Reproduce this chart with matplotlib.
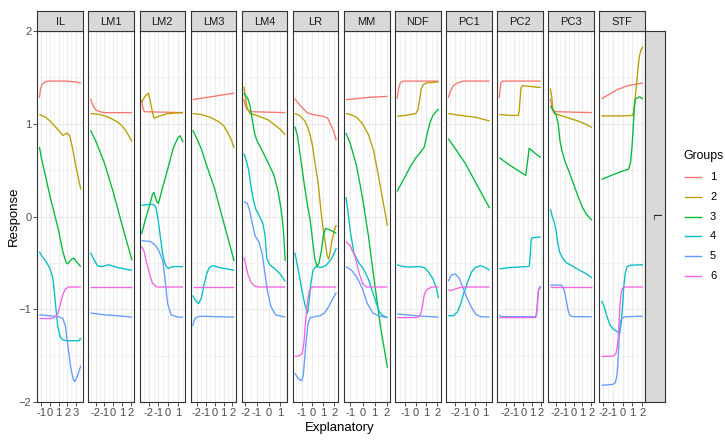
import matplotlib.pyplot as plt
from matplotlib.lines import Line2D
from matplotlib.ticker import MultipleLocator

plt.rcParams['font.family'] = ['Liberation Sans', 'DejaVu Sans']

groups = [1, 2, 3, 4, 5, 6]
group_colors = ['#F8766D', '#B79F00', '#00BA38', '#00BFC4', '#619CFF', '#F564E3']
facets = ['IL', 'LM1', 'LM2', 'LM3', 'LM4', 'LR', 'MM', 'NDF', 'PC1', 'PC2', 'PC3', 'STF']
y_ticks = [-2, -1, 0, 1, 2]

# response curves per facet, group -> [(explanatory, response), ...]
IL = {
    1: [(-1.24, 1.28), (-1.1, 1.38), (-0.9, 1.43), (-0.5, 1.455), (0, 1.46), (1, 1.46), (2, 1.46), (3, 1.45), (3.6, 1.44)],
    2: [(-1.24, 1.10), (-0.5, 1.07), (0, 1.03), (0.5, 0.98), (1, 0.93), (1.5, 0.875), (1.8, 0.89), (2.0, 0.90),
        (2.3, 0.87), (2.6, 0.75), (3.0, 0.55), (3.3, 0.42), (3.6, 0.29)],
    3: [(-1.24, 0.75), (-1, 0.63), (0, 0.22), (1, -0.15), (1.5, -0.38), (1.9, -0.5), (2.1, -0.51), (2.5, -0.46),
        (2.8, -0.45), (3.1, -0.49), (3.6, -0.54)],
    4: [(-1.24, -0.38), (-1, -0.42), (-0.5, -0.48), (0, -0.56), (0.3, -0.65), (0.5, -0.8), (0.7, -1.0), (0.9, -1.18),
        (1.2, -1.3), (1.5, -1.33), (2, -1.34), (3, -1.34), (3.4, -1.34), (3.6, -1.31)],
    5: [(-1.24, -1.06), (0, -1.07), (1, -1.08), (1.5, -1.1), (1.8, -1.18), (2.1, -1.4), (2.4, -1.62), (2.7, -1.75),
        (2.9, -1.78), (3.2, -1.72), (3.6, -1.61)],
    6: [(-1.24, -1.10), (0, -1.10), (0.5, -1.09), (0.9, -1.05), (1.2, -0.95), (1.5, -0.84), (1.8, -0.78), (2.2, -0.76),
        (3.6, -0.76)],
}
LM1 = {
    1: [(-2.58, 1.27), (-2.3, 1.2), (-2.0, 1.15), (-1.5, 1.13), (-1, 1.12), (2.16, 1.12)],
    2: [(-2.58, 1.11), (-1.5, 1.10), (-0.5, 1.07), (0.5, 1.02), (1, 0.98), (1.5, 0.92), (2.16, 0.81)],
    3: [(-2.58, 0.93), (-2, 0.82), (-1, 0.58), (0, 0.27), (1, -0.08), (2.16, -0.47)],
    4: [(-2.58, -0.39), (-2.2, -0.46), (-1.8, -0.53), (-1.3, -0.54), (-0.5, -0.52), (0.5, -0.55), (2.16, -0.58)],
    5: [(-2.58, -1.04), (-1, -1.06), (0.5, -1.07), (2.16, -1.085)],
    6: [(-2.58, -0.76), (2.16, -0.76)],
}
LM2 = {
    1: [(-2.72, 1.26), (-2.6, 1.18), (-2.45, 1.13), (1.52, 1.12)],
    2: [(-2.72, 1.23), (-2.4, 1.29), (-2.03, 1.33), (-1.85, 1.25), (-1.6, 1.12), (-1.45, 1.06), (-1.0, 1.08),
        (0, 1.11), (1.52, 1.12)],
    3: [(-2.72, -0.19), (-2.3, -0.02), (-1.9, 0.12), (-1.6, 0.24), (-1.45, 0.26), (-1.2, 0.17), (-1.0, 0.14),
        (-0.6, 0.30), (0, 0.53), (0.5, 0.73), (1.0, 0.85), (1.24, 0.87), (1.52, 0.80)],
    4: [(-2.72, 0.12), (-2.0, 0.13), (-1.5, 0.13), (-1.25, 0.1), (-1.0, -0.05), (-0.8, -0.22), (-0.55, -0.41),
        (-0.3, -0.52), (0, -0.56), (0.5, -0.54), (1.52, -0.54)],
    5: [(-2.72, -0.26), (-1.8, -0.27), (-1.3, -0.31), (-0.9, -0.38), (-0.55, -0.48), (-0.4, -0.6), (-0.25, -0.75),
        (-0.05, -0.94), (0.3, -1.06), (1.0, -1.085), (1.52, -1.085)],
    6: [(-2.72, -0.32), (-2.45, -0.38), (-2.2, -0.5), (-1.9, -0.62), (-1.6, -0.72), (-1.2, -0.76), (1.52, -0.76)],
}
LM3 = {
    1: [(-2.47, 1.26), (2.19, 1.33)],
    2: [(-2.47, 1.11), (-1.5, 1.10), (-0.5, 1.07), (0.5, 1.02), (1, 0.98), (1.5, 0.90), (1.9, 0.82), (2.19, 0.74)],
    3: [(-2.47, 0.93), (-2, 0.84), (-1.5, 0.73), (-1, 0.58), (0, 0.30), (1, -0.06), (2.19, -0.48)],
    4: [(-2.47, -0.85), (-2.2, -0.9), (-1.8, -0.94), (-1.5, -0.88), (-1.2, -0.74), (-0.9, -0.62), (-0.6, -0.55),
        (-0.2, -0.53), (0.5, -0.55), (2.19, -0.58)],
    5: [(-2.47, -1.18), (-2.3, -1.12), (-2.1, -1.09), (-1.7, -1.075), (2.19, -1.085)],
    6: [(-2.47, -0.76), (2.19, -0.76)],
}
LM4 = {
    1: [(-2.12, 1.27), (-2.0, 1.2), (-1.8, 1.15), (-1.5, 1.13), (1.43, 1.12)],
    2: [(-2.12, 1.40), (-2.0, 1.3), (-1.85, 1.18), (-1.6, 1.11), (-1.0, 1.09), (0, 1.04), (0.5, 0.99), (1.0, 0.94),
        (1.43, 0.88)],
    3: [(-2.12, 1.33), (-1.8, 1.28), (-1.6, 1.2), (-1.4, 1.05), (-1.2, 0.9), (-1.0, 0.82), (-0.5, 0.7), (0, 0.57),
        (0.45, 0.45), (0.8, 0.28), (1.05, 0.1), (1.2, -0.05), (1.3, -0.2), (1.43, -0.48)],
    4: [(-2.12, 0.68), (-1.9, 0.6), (-1.7, 0.5), (-1.5, 0.32), (-1.3, 0.18), (-1.1, 0.08), (-0.8, 0.01), (-0.5, -0.07),
        (-0.3, -0.2), (-0.15, -0.45), (0.1, -0.52), (0.6, -0.57), (1.0, -0.62), (1.43, -0.70)],
    5: [(-2.12, 0.16), (-1.8, 0.14), (-1.6, 0.05), (-1.4, -0.07), (-1.15, -0.21), (-0.8, -0.28), (-0.55, -0.4),
        (-0.3, -0.62), (-0.1, -0.8), (0.2, -0.97), (0.6, -1.06), (1.43, -1.085)],
    6: [(-2.12, -0.44), (-1.95, -0.52), (-1.75, -0.63), (-1.5, -0.71), (-1.2, -0.75), (-0.9, -0.76), (1.43, -0.76)],
}
LR = {
    1: [(-1.62, 1.27), (-1.3, 1.22), (-1.0, 1.18), (-0.5, 1.12), (0, 1.10), (0.5, 1.09), (1.0, 1.08), (1.4, 1.06),
        (1.7, 0.98), (1.95, 0.92), (2.19, 0.82)],
    2: [(-1.62, 1.11), (-1.2, 1.09), (-0.7, 1.03), (-0.4, 0.95), (-0.2, 0.87), (0.0, 0.76), (0.2, 0.6), (0.4, 0.45),
        (0.55, 0.33), (0.7, 0.15), (0.86, -0.03), (1.0, -0.15), (1.17, -0.28), (1.35, -0.42), (1.48, -0.46),
        (1.6, -0.4), (1.79, -0.26), (2.0, -0.15), (2.19, -0.09)],
    3: [(-1.62, 0.97), (-1.4, 0.88), (-1.2, 0.72), (-1.0, 0.55), (-0.7, 0.3), (-0.4, 0.08), (-0.2, -0.05),
        (0.0, -0.25), (0.2, -0.45), (0.42, -0.54), (0.6, -0.5), (0.8, -0.38), (1.0, -0.2), (1.2, -0.13),
        (1.5, -0.14), (2.19, -0.18)],
    4: [(-1.62, -0.39), (-1.3, -0.58), (-1.0, -0.78), (-0.7, -0.95), (-0.45, -1.04), (-0.3, -0.9), (-0.15, -0.72),
        (0.05, -0.58), (0.3, -0.54), (0.8, -0.55), (1.2, -0.53), (1.6, -0.48), (1.9, -0.42), (2.19, -0.34)],
    5: [(-1.62, -1.69), (-1.3, -1.75), (-1.0, -1.77), (-0.85, -1.72), (-0.7, -1.5), (-0.55, -1.3), (-0.4, -1.15),
        (-0.2, -1.09), (0.2, -1.08), (0.7, -1.07), (1.1, -1.04), (1.5, -0.97), (1.8, -0.9), (2.19, -0.82)],
    6: [(-1.62, -1.51), (-1.2, -1.50), (-0.95, -1.48), (-0.8, -1.38), (-0.65, -1.15), (-0.5, -0.95), (-0.3, -0.8),
        (-0.05, -0.76), (2.19, -0.76)],
}
MM = {
    1: [(-1.37, 1.26), (-0.5, 1.27), (0.5, 1.285), (2.06, 1.295)],
    2: [(-1.37, 1.11), (-1.0, 1.10), (-0.5, 1.07), (0, 1.0), (0.5, 0.88), (0.9, 0.72), (1.3, 0.45), (1.7, 0.16),
        (2.06, -0.10)],
    3: [(-1.37, 0.90), (-1.0, 0.78), (-0.5, 0.55), (0, 0.2), (0.5, -0.22), (1.0, -0.72), (1.5, -1.2), (2.06, -1.63)],
    4: [(-1.37, 0.21), (-1.2, 0.05), (-1.0, -0.17), (-0.7, -0.4), (-0.3, -0.5), (0.1, -0.57), (0.5, -0.68),
        (1.0, -0.88), (1.4, -1.03), (1.7, -1.07), (2.06, -1.09)],
    5: [(-1.37, -0.54), (-0.9, -0.58), (-0.45, -0.66), (0, -0.78), (0.4, -0.94), (0.85, -1.04), (1.3, -1.07),
        (2.06, -1.09)],
    6: [(-1.37, -0.27), (-1.0, -0.32), (-0.6, -0.44), (-0.3, -0.6), (0, -0.72), (0.3, -0.76), (2.06, -0.76)],
}
NDF = {
    1: [(-1.75, 1.27), (-1.6, 1.38), (-1.45, 1.44), (-1.2, 1.46), (2.13, 1.46)],
    2: [(-1.75, 1.08), (-1.0, 1.09), (-0.5, 1.10), (0, 1.11), (0.2, 1.15), (0.35, 1.25), (0.5, 1.37), (0.7, 1.42),
        (1.0, 1.44), (2.13, 1.45)],
    3: [(-1.75, 0.27), (-1.0, 0.43), (-0.5, 0.54), (0, 0.63), (0.5, 0.7), (0.8, 0.75), (1.0, 0.86), (1.3, 1.0),
        (1.6, 1.09), (1.9, 1.13), (2.13, 1.16)],
    4: [(-1.75, -0.52), (-1.2, -0.54), (-0.5, -0.545), (0.3, -0.54), (0.8, -0.55), (1.2, -0.6), (1.6, -0.67),
        (1.9, -0.76), (2.13, -0.88)],
    5: [(-1.75, -1.05), (0, -1.07), (2.13, -1.085)],
    6: [(-1.75, -1.09), (0, -1.09), (0.3, -1.08), (0.5, -1.04), (0.65, -0.95), (0.8, -0.84), (1.0, -0.79),
        (1.5, -0.76), (2.13, -0.76)],
}
PC1 = {
    1: [(-2.72, 1.28), (-2.5, 1.35), (-2.2, 1.41), (-1.8, 1.44), (-1.2, 1.46), (1.41, 1.46)],
    2: [(-2.72, 1.11), (-1.5, 1.09), (0, 1.07), (1.41, 1.03)],
    3: [(-2.72, 0.84), (-2, 0.73), (-1, 0.57), (0, 0.37), (0.7, 0.23), (1.41, 0.09)],
    4: [(-2.72, -1.07), (-2.2, -1.07), (-1.8, -1.03), (-1.5, -0.95), (-1.2, -0.84), (-0.8, -0.71), (-0.4, -0.6),
        (0, -0.55), (0.5, -0.53), (1.0, -0.55), (1.41, -0.58)],
    5: [(-2.72, -0.70), (-2.4, -0.63), (-2.0, -0.62), (-1.6, -0.67), (-1.2, -0.78), (-0.8, -0.89), (-0.4, -0.98),
        (0, -1.05), (0.5, -1.08), (1.41, -1.085)],
    6: [(-2.72, -0.79), (-2.4, -0.8), (-2.0, -0.78), (-1.5, -0.765), (-1.0, -0.76), (1.41, -0.76)],
}
PC2 = {
    1: [(-2.74, 1.28), (-2.65, 1.38), (-2.55, 1.44), (-2.35, 1.46), (2.0, 1.46)],
    2: [(-2.74, 1.10), (-1.5, 1.09), (-0.55, 1.09), (-0.45, 1.15), (-0.35, 1.28), (-0.25, 1.39), (-0.1, 1.41),
        (1.0, 1.40), (2.0, 1.39)],
    3: [(-2.74, 0.635), (-1.5, 0.55), (-0.5, 0.49), (0.29, 0.443), (0.5, 0.6), (0.68, 0.735), (1.0, 0.71),
        (1.5, 0.67), (2.0, 0.635)],
    4: [(-2.74, -0.565), (-1.5, -0.55), (-0.5, -0.545), (0.5, -0.54), (0.7, -0.53), (0.8, -0.42), (0.9, -0.26),
        (1.0, -0.23), (2.0, -0.22)],
    5: [(-2.74, -1.06), (-2.5, -1.08), (1.4, -1.08), (1.5, -1.05), (1.6, -0.95), (1.7, -0.82), (1.8, -0.77),
        (2.0, -0.75)],
    6: [(-2.74, -1.09), (1.42, -1.09), (1.55, -1.05), (1.65, -0.92), (1.75, -0.8), (2.0, -0.76)],
}
PC3 = {
    1: [(-2.64, 1.27), (-2.5, 1.2), (-2.3, 1.14), (-2.0, 1.13), (2.08, 1.12)],
    2: [(-2.64, 1.38), (-2.5, 1.3), (-2.35, 1.15), (-2.2, 1.11), (-1.5, 1.09), (-0.5, 1.06), (0.5, 1.03),
        (1.5, 0.99), (2.08, 0.96)],
    3: [(-2.64, 1.19), (-2.3, 1.14), (-2.0, 1.1), (-1.75, 1.0), (-1.55, 0.82), (-1.35, 0.72), (-1.0, 0.6),
        (-0.5, 0.48), (0, 0.35), (0.5, 0.22), (1.0, 0.1), (1.5, 0.02), (2.08, -0.04)],
    4: [(-2.64, 0.08), (-2.4, -0.01), (-2.2, -0.06), (-2.0, -0.15), (-1.8, -0.28), (-1.6, -0.38), (-1.3, -0.44),
        (-0.8, -0.5), (0, -0.54), (0.5, -0.57), (1.3, -0.61), (2.08, -0.66)],
    5: [(-2.64, -0.74), (-1.4, -0.74), (-1.2, -0.76), (-1.0, -0.82), (-0.8, -0.92), (-0.6, -1.02), (-0.4, -1.07),
        (0, -1.08), (2.08, -1.08)],
    6: [(-2.64, -0.76), (2.08, -0.76)],
}
STF = {
    1: [(-2.17, 1.27), (-1.5, 1.31), (-1.0, 1.34), (-0.5, 1.37), (0, 1.39), (0.5, 1.41), (1.0, 1.42), (1.5, 1.43),
        (2.07, 1.44)],
    2: [(-2.17, 1.085), (0, 1.085), (1.0, 1.09), (1.1, 1.12), (1.25, 1.25), (1.4, 1.42), (1.55, 1.58), (1.7, 1.72),
        (1.85, 1.79), (2.07, 1.83)],
    3: [(-2.17, 0.40), (-1.0, 0.45), (0, 0.49), (0.6, 0.51), (0.8, 0.58), (0.96, 0.76), (1.1, 1.0), (1.2, 1.18),
        (1.3, 1.265), (1.5, 1.28), (1.76, 1.29), (2.07, 1.265)],
    4: [(-2.17, -0.91), (-1.9, -0.97), (-1.6, -1.08), (-1.3, -1.17), (-1.0, -1.21), (-0.6, -1.24), (-0.3, -1.26),
        (-0.15, -1.15), (0.0, -0.95), (0.1, -0.77), (0.25, -0.62), (0.45, -0.54), (0.8, -0.525), (2.07, -0.52)],
    5: [(-2.17, -1.82), (-1.0, -1.81), (-0.75, -1.79), (-0.6, -1.72), (-0.5, -1.6), (-0.4, -1.4), (-0.3, -1.2),
        (-0.2, -1.12), (-0.05, -1.095), (0.3, -1.08), (2.07, -1.075)],
    6: [(-2.17, -1.51), (-1.0, -1.505), (-0.7, -1.48), (-0.55, -1.4), (-0.43, -1.25), (-0.3, -1.0), (-0.15, -0.82),
        (0.0, -0.77), (0.3, -0.76), (2.07, -0.76)],
}
curves = {'IL': IL, 'LM1': LM1, 'LM2': LM2, 'LM3': LM3, 'LM4': LM4, 'LR': LR, 'MM': MM, 'NDF': NDF,
          'PC1': PC1, 'PC2': PC2, 'PC3': PC3, 'STF': STF}

W, H = 725, 440
fig = plt.figure(figsize=(W / 100, H / 100), dpi=100)
fig.patch.set_facecolor('white')


def box(x0, y0, x1, y1):
    return [x0 / W, 1 - y1 / H, (x1 - x0) / W, (y1 - y0) / H]


BORDER = '#333333'
GRID = '#EBEBEB'
TXT = '#4D4D4D'
PANEL_TOP, PANEL_BOT = 31, 402

for i, name in enumerate(facets):
    x0 = 37.3 + 51.1 * i
    ax = fig.add_axes(box(x0, PANEL_TOP, x0 + 45.6, PANEL_BOT))
    data = curves[name]
    xs_all = [p[0] for g in groups for p in data[g]]
    lo, hi = min(xs_all), max(xs_all)
    pad = 0.05 * (hi - lo)
    for g, c in zip(groups, group_colors):
        xs = [p[0] for p in data[g]]
        ys = [p[1] for p in data[g]]
        ax.plot(xs, ys, color=c, lw=0.95, solid_capstyle='butt', zorder=3)
    ax.set_xlim(lo - pad, hi + pad)
    ax.set_ylim(-2, 2)
    ax.xaxis.set_major_locator(MultipleLocator(1))
    ax.xaxis.set_minor_locator(MultipleLocator(0.5))
    ax.set_yticks(y_ticks)
    ax.yaxis.set_minor_locator(MultipleLocator(0.5))
    ax.grid(which='major', color=GRID, lw=0.8, zorder=0)
    ax.grid(which='minor', color=GRID, lw=0.45, zorder=0)
    ax.set_axisbelow(True)
    for s in ax.spines.values():
        s.set_color(BORDER)
        s.set_linewidth(0.8)
    ax.tick_params(axis='both', which='major', length=2.7, width=0.6, color=BORDER,
                   labelsize=8, labelcolor=TXT, pad=1.5)
    ax.tick_params(which='minor', length=0)
    ax.set_xticklabels([f'{int(t)}' if abs(t - round(t)) < 1e-9 else '' for t in ax.get_xticks()])
    if i > 0:
        ax.tick_params(axis='y', left=False, labelleft=False)

    # facet strip
    sax = fig.add_axes(box(x0, 11, x0 + 45.6, PANEL_TOP))
    sax.set_facecolor('#D9D9D9')
    sax.set_xticks([])
    sax.set_yticks([])
    for s in sax.spines.values():
        s.set_color(BORDER)
        s.set_linewidth(0.8)
    sax.text(0.5, 0.47, name, ha='center', va='center', fontsize=8, color='#1A1A1A',
             transform=sax.transAxes)

# right strip
rax = fig.add_axes(box(645, PANEL_TOP, 665, PANEL_BOT))
rax.set_facecolor('#D9D9D9')
rax.set_xticks([])
rax.set_yticks([])
for s in rax.spines.values():
    s.set_color(BORDER)
    s.set_linewidth(0.8)
rax.text(0.5, 0.5, 'L', rotation=-90, ha='center', va='center', fontsize=8, color='#1A1A1A',
         transform=rax.transAxes)

fig.text(14 / W, 1 - 216 / H, 'Response', rotation=90, ha='center', va='center', fontsize=9.5, color='black')
fig.text(340 / W, 1 - 428 / H, 'Explanatory', ha='center', va='center', fontsize=9.5, color='black')

# legend
fig.text(683 / W, 1 - 156 / H, 'Groups', ha='left', va='center', fontsize=8.8, color='black')
for k, (g, c) in enumerate(zip(groups, group_colors)):
    yy = 1 - (177 + 19.8 * k) / H
    fig.add_artist(Line2D([685 / W, 701 / W], [yy, yy], color=c, lw=1.0, transform=fig.transFigure))
    fig.text(710 / W, yy, str(g), ha='left', va='center', fontsize=8, color='black')

fig.savefig('out.png', dpi=100)
